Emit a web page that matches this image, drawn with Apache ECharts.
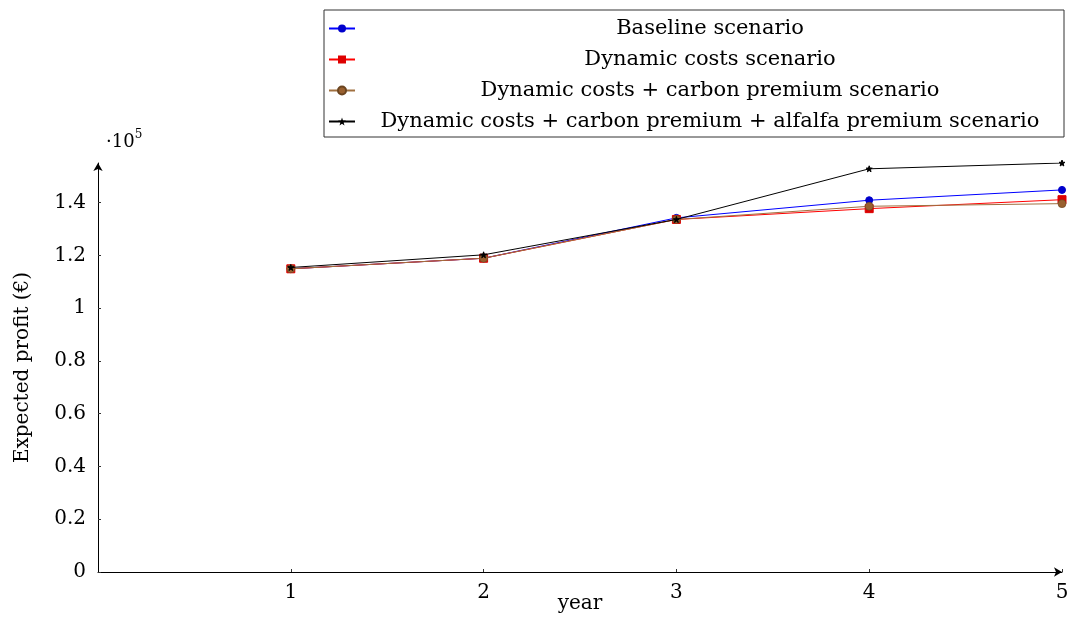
<!DOCTYPE html>
<html>
<head>
<meta charset="utf-8">
<script src="https://cdn.jsdelivr.net/npm/echarts@6/dist/echarts.min.js"></script>
<style>html,body{margin:0;padding:0;background:#fff}#c{width:1072px;height:619px}</style>
</head>
<body>
<div id="c"></div>
<script>
const years = [1, 2, 3, 4, 5];
const baseline = [114900, 118900, 134200, 140900, 144800];
const dynamicCosts = [114900, 118900, 133600, 137700, 141100];
const dynCarbon = [114900, 118900, 133600, 138600, 139600];
const dynCarbonAlfalfa = [115400, 120200, 133600, 152800, 155000];
const seriesNames = [
  'Baseline scenario',
  'Dynamic costs scenario',
  'Dynamic costs + carbon premium scenario',
  'Dynamic costs + carbon premium + alfalfa premium scenario'
];
const yTicks = [0, 20000, 40000, 60000, 80000, 100000, 120000, 140000];
const xTicks = [1, 2, 3, 4, 5];

const FONT = 'DejaVu Serif';
const FS = 20;
const LFS = 21;
const star = 'path://M0,-10 L2.35,-3.24 9.51,-3.09 3.8,1.24 5.88,8.09 0,4 -5.88,8.09 -3.8,1.24 -9.51,-3.09 -2.35,-3.24 Z';
function pairs(v){ return years.map((x,i)=>[x, v[i]]); }

const chart = echarts.init(document.getElementById('c'), null, {renderer:'canvas'});
chart.setOption({
  animation: false,
  backgroundColor: '#fff',
  textStyle: {fontFamily: FONT, color: '#000'},
  grid: {left: 98, right: 10, top: 163, bottom: 47, outerBoundsMode: 'none'},
  legend: {
    orient: 'vertical', left: 324, top: 10,
    backgroundColor: '#fff', borderColor: '#333', borderWidth: 1, borderRadius: 0,
    padding: [8, 4, 5, 4], itemGap: 10, itemWidth: 26, itemHeight: 10,
    data: seriesNames,
    formatter: n => '{a|' + n + '}',
    textStyle: {fontFamily: FONT, fontSize: LFS, color: '#000',
      rich: {a: {width: 700, align: 'center', fontFamily: FONT, fontSize: LFS, lineHeight: 21, color:'#000'}}}
  },
  xAxis: {
    type: 'value', min: 0, max: 5,
    name: 'year', nameLocation: 'middle', nameGap: 22, nameMoveOverlap: false,
    nameTextStyle: {fontFamily: FONT, fontSize: FS, color: '#000'},
    axisLine: {show: true, lineStyle: {color: '#000', width: 1}, symbol: ['none', 'arrow'], symbolSize: [7, 8]},
    axisTick: {show: true, inside: true, length: 3, customValues: xTicks, lineStyle: {color: '#333'}},
    axisLabel: {customValues: xTicks, fontFamily: FONT, fontSize: FS, color: '#000', margin: 11},
    splitLine: {show: false}
  },
  yAxis: {
    type: 'value', min: 0, max: 155000,
    name: 'Expected profit (€)', nameLocation: 'middle', nameGap: 65,
    nameTextStyle: {fontFamily: FONT, fontSize: FS, color: '#000'},
    axisLine: {show: true, lineStyle: {color: '#000', width: 1}, symbol: ['none', 'arrow'], symbolSize: [7, 8]},
    axisTick: {show: true, inside: true, length: 3, customValues: yTicks, lineStyle: {color: '#333'}},
    axisLabel: {customValues: yTicks, fontFamily: FONT, fontSize: FS, color: '#000', margin: 12,
      formatter: v => String(Math.round(v / 1e4) / 10)},
    splitLine: {show: false}
  },
  graphic: [{
    type: 'text', left: 106, top: 129,
    style: {text: '{d|·10}{s|5}', fontFamily: FONT,
      rich: {d: {fontSize: 18, fontFamily: FONT, fill: '#000', verticalAlign: 'bottom'},
             s: {fontSize: 12, fontFamily: FONT, fill: '#000', verticalAlign: 'top', padding: [0,0,10,0]}}}
  }],
  series: [
    {name: seriesNames[0], type: 'line', data: pairs(baseline), symbol: 'circle', symbolSize: 7,
     lineStyle: {color: '#0000ff', width: 1}, itemStyle: {color: '#0000cc', borderColor: '#0000cc'}, z: 2},
    {name: seriesNames[1], type: 'line', data: pairs(dynamicCosts), symbol: 'rect', symbolSize: 8,
     lineStyle: {color: '#ff0000', width: 1}, itemStyle: {color: '#dd0000', borderColor: '#dd0000'}, z: 3},
    {name: seriesNames[2], type: 'line', data: pairs(dynCarbon), symbol: 'circle', symbolSize: 8,
     lineStyle: {color: '#a07040', width: 1}, itemStyle: {color: '#99602f', borderColor: '#6b4520', borderWidth: 0.6}, z: 4},
    {name: seriesNames[3], type: 'line', data: pairs(dynCarbonAlfalfa), symbol: star, symbolSize: 6,
     lineStyle: {color: '#000', width: 1}, itemStyle: {color: '#000', borderColor: '#000'}, z: 5}
  ]
});
</script>
</body>
</html>
